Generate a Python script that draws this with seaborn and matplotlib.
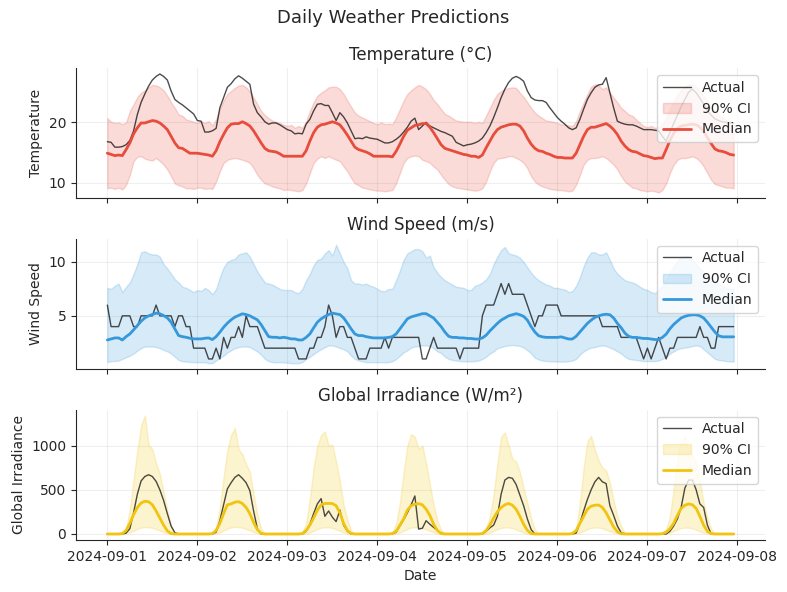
import numpy as np
import pandas as pd
import matplotlib
matplotlib.use("Agg")
import matplotlib.pyplot as plt
import matplotlib.dates as mdates
import seaborn as sns

# ---------------- data (hourly, 2024-09-01 00:00 .. 2024-09-07 23:00) ----------------
temp_actual = [
    16.8, 16.7, 15.9, 15.9, 16.0, 16.3, 17.0, 18.6, 21.3, 23.3, 24.7, 26.0, 27.0, 27.6, 28.0, 27.6, 27.0, 25.2, 23.8, 23.3, 22.9, 22.4, 21.9, 21.4,
    20.3, 20.2, 18.4, 18.4, 18.6, 19.0, 22.4, 24.1, 25.8, 26.4, 27.2, 27.7, 27.3, 26.8, 26.3, 23.0, 21.6, 20.9, 20.1, 19.7, 19.9, 19.9, 19.6, 19.2,
    18.8, 18.6, 18.1, 18.2, 18.1, 19.7, 20.5, 21.9, 23.0, 23.1, 22.8, 22.8, 21.6, 20.3, 21.6, 20.9, 19.9, 18.6, 17.3, 17.4, 17.3, 17.6, 17.4, 17.3,
    17.2, 16.9, 16.6, 16.6, 16.8, 17.2, 17.7, 18.4, 19.2, 20.2, 20.7, 18.8, 19.4, 20.0, 19.4, 19.1, 18.8, 18.5, 18.3, 18.0, 17.7, 16.7, 16.4, 16.1,
    16.3, 16.4, 16.6, 16.9, 17.4, 18.3, 19.4, 20.8, 22.4, 24.1, 25.5, 26.6, 27.3, 27.6, 27.3, 26.8, 25.2, 24.1, 23.7, 23.6, 23.6, 23.3, 22.4, 21.6,
    20.8, 20.2, 19.7, 19.1, 18.8, 19.1, 20.5, 22.2, 23.8, 24.9, 25.8, 26.2, 26.3, 27.4, 24.9, 22.4, 20.2, 19.9, 19.7, 19.6, 19.6, 19.4, 19.1, 18.8,
    18.8, 18.8, 18.7, 18.6, 17.7, 16.9, 18.3, 19.8, 21.2, 22.6, 23.8, 25.0, 25.5, 24.9, 24.0, 23.0, 22.0, 21.2, 20.6, 20.3, 20.1, 20.0, 19.9, 19.9,
]
temp_median = [
    14.9, 14.7, 14.5, 14.6, 14.5, 15.5, 16.6, 18.1, 19.1, 19.9, 19.9, 20.1, 20.3, 20.2, 19.9, 19.4, 18.8, 17.7, 16.6, 15.8, 15.7, 15.3, 14.9, 14.9,
    14.9, 14.8, 14.7, 14.6, 14.4, 15.3, 16.8, 18.0, 19.1, 19.7, 19.8, 19.8, 20.1, 19.8, 19.4, 18.6, 17.6, 16.6, 15.7, 15.3, 15.2, 15.1, 14.8, 14.4,
    14.4, 14.4, 14.4, 14.4, 14.4, 15.3, 16.9, 18.3, 19.2, 19.6, 19.7, 19.9, 20.1, 19.9, 19.6, 18.8, 17.9, 16.9, 15.9, 15.5, 15.3, 15.1, 14.8, 14.4,
    14.4, 14.4, 14.4, 14.4, 14.3, 15.2, 16.4, 17.7, 18.7, 19.1, 19.5, 19.6, 19.8, 19.8, 19.2, 18.3, 17.3, 16.3, 15.7, 15.5, 15.3, 15.1, 14.9, 14.7,
    14.6, 14.4, 14.4, 14.2, 14.6, 15.8, 16.9, 18.0, 18.8, 19.2, 19.4, 19.6, 19.7, 19.7, 19.4, 18.6, 17.4, 16.4, 15.7, 15.3, 15.2, 14.9, 14.7, 14.4,
    14.2, 14.2, 14.1, 14.1, 14.1, 14.9, 16.3, 17.7, 18.8, 19.2, 19.2, 19.4, 19.6, 19.8, 19.4, 18.8, 18.0, 16.9, 16.1, 15.5, 15.2, 15.1, 14.8, 14.5,
    14.4, 14.2, 14.0, 14.1, 14.1, 15.5, 17.0, 18.2, 19.0, 19.4, 19.5, 19.6, 19.7, 19.6, 19.2, 18.5, 17.5, 16.5, 15.6, 15.3, 15.2, 15.0, 14.7, 14.6,
]
temp_upper = [
    20.7, 20.1, 19.9, 20.0, 19.7, 20.0, 21.9, 23.0, 24.2, 24.9, 25.3, 25.8, 26.2, 26.1, 25.8, 25.3, 24.4, 23.3, 22.4, 21.3, 21.1, 20.5, 20.3, 20.1,
    19.9, 20.2, 19.9, 20.2, 19.5, 20.5, 22.2, 23.6, 24.7, 25.2, 25.7, 26.1, 26.2, 25.8, 25.1, 24.1, 23.0, 21.9, 21.2, 20.7, 20.3, 20.1, 19.9, 19.6,
    19.4, 19.6, 19.1, 19.4, 19.1, 20.2, 21.9, 23.3, 24.4, 24.9, 25.3, 25.8, 25.9, 25.9, 25.5, 24.7, 23.6, 22.6, 21.6, 21.1, 20.8, 20.5, 20.2, 19.9,
    19.7, 20.0, 19.7, 19.8, 19.7, 20.8, 22.2, 23.6, 24.7, 25.3, 25.8, 26.2, 25.9, 25.5, 24.7, 23.7, 23.0, 22.2, 21.4, 21.1, 20.7, 20.3, 20.2, 20.1,
    20.1, 20.1, 19.9, 20.1, 19.9, 21.1, 22.4, 23.7, 24.7, 25.2, 25.5, 25.7, 25.8, 25.7, 24.9, 24.2, 23.3, 22.4, 21.6, 21.1, 20.7, 20.3, 20.2, 20.1,
    19.9, 19.7, 19.6, 19.5, 19.4, 20.2, 21.9, 23.3, 24.7, 25.9, 26.3, 26.1, 25.5, 25.8, 24.9, 24.1, 23.3, 22.4, 21.9, 21.3, 21.1, 20.5, 19.9, 19.4,
    19.2, 19.4, 19.1, 19.2, 19.7, 20.8, 22.2, 23.5, 24.6, 25.4, 25.9, 26.3, 26.2, 25.9, 25.2, 24.4, 23.5, 22.6, 21.8, 21.2, 20.7, 20.4, 20.2, 20.0,
]
temp_lower = [
    9.1, 9.2, 9.0, 9.2, 8.9, 9.7, 11.3, 13.6, 14.3, 14.4, 14.0, 13.8, 13.7, 14.1, 13.6, 13.0, 12.2, 11.1, 9.9, 9.6, 9.4, 9.1, 9.1, 9.0,
    9.2, 9.2, 9.0, 9.1, 9.0, 10.2, 11.9, 13.3, 13.8, 14.0, 14.1, 14.0, 13.8, 13.6, 13.3, 12.4, 11.3, 10.5, 9.9, 9.7, 9.4, 9.2, 9.1, 8.8,
    8.9, 8.8, 8.7, 8.6, 8.8, 9.9, 11.6, 13.3, 14.0, 14.4, 14.1, 14.4, 14.1, 13.8, 13.6, 12.7, 11.9, 10.8, 9.9, 9.6, 9.2, 9.1, 8.9, 8.8,
    8.7, 8.7, 8.6, 8.7, 8.8, 9.9, 11.6, 13.3, 14.1, 14.4, 14.5, 14.4, 13.8, 13.6, 13.3, 12.7, 12.2, 11.3, 10.5, 9.8, 9.4, 9.2, 9.1, 9.0,
    8.9, 8.8, 8.7, 8.8, 9.1, 10.2, 11.9, 13.3, 14.0, 14.1, 14.2, 14.4, 14.4, 14.1, 13.8, 13.3, 12.4, 11.1, 10.2, 9.7, 9.4, 9.2, 9.0, 8.9,
    8.8, 8.8, 8.7, 8.6, 8.7, 9.7, 11.3, 13.0, 13.8, 14.1, 14.1, 14.2, 14.4, 14.1, 13.6, 13.0, 12.2, 11.1, 10.2, 9.7, 9.2, 9.1, 8.8, 8.7,
    8.6, 8.7, 8.6, 8.4, 8.8, 9.9, 11.6, 13.0, 13.8, 14.1, 14.1, 14.2, 14.4, 14.1, 13.6, 12.7, 11.6, 10.5, 9.8, 9.6, 9.4, 9.2, 9.2, 9.1,
]

wind_actual = [
    6, 4, 4, 4, 5, 5, 5, 4, 4, 5, 5, 5, 5, 6, 5, 5, 5, 5, 4, 5, 5, 4, 4, 2,
    2, 2, 2, 1, 1, 2, 1, 3, 2, 3, 3, 4, 3, 5, 4, 4, 4, 3, 2, 2, 2, 2, 2, 2,
    2, 2, 2, 1, 1, 1, 2, 2, 3, 3, 4, 6, 5, 3, 4, 4, 3, 3, 2, 1, 1, 1, 2, 2,
    2, 2, 3, 2, 3, 3, 3, 3, 3, 3, 3, 3, 1, 1, 2, 3, 2, 2, 2, 2, 2, 2, 1, 2,
    2, 2, 2, 2, 5, 6, 6, 6, 7, 8, 7, 8, 7, 7, 7, 7, 6, 5, 4, 5, 5, 6, 6, 6,
    6, 5, 5, 5, 5, 5, 5, 5, 5, 5, 5, 5, 4, 4, 4, 4, 4, 3, 3, 3, 3, 3, 2, 1,
    2, 1, 2, 3, 2, 1, 2, 2, 3, 3, 3, 3, 3, 3, 4, 3, 3, 2, 2, 4, 4, 4, 4, 4,
]
wind_median = [
    2.76, 2.86, 2.95, 2.95, 2.76, 3.07, 3.32, 3.70, 4.10, 4.50, 4.81, 5.00, 5.12, 5.25, 5.19, 5.03, 4.81, 4.41, 3.79, 3.17, 3.07, 3.01, 2.92, 2.86,
    2.86, 2.86, 2.92, 2.95, 2.80, 3.07, 3.48, 3.94, 4.32, 4.63, 4.88, 5.03, 5.19, 5.12, 5.00, 4.81, 4.63, 4.19, 3.63, 3.07, 3.01, 3.01, 2.95, 3.01,
    2.95, 2.86, 2.86, 2.76, 2.76, 3.00, 3.32, 3.88, 4.41, 4.72, 4.94, 5.12, 5.25, 5.19, 5.12, 4.81, 4.32, 3.79, 3.32, 3.17, 3.17, 3.07, 3.00, 2.95,
    2.95, 2.95, 2.95, 3.00, 3.07, 3.32, 3.79, 4.26, 4.72, 4.90, 5.00, 5.10, 5.20, 5.20, 5.00, 4.80, 4.40, 4.00, 3.50, 3.10, 3.00, 3.00, 2.95, 2.95,
    2.90, 2.90, 2.85, 2.85, 2.95, 3.20, 3.60, 3.95, 4.30, 4.60, 4.80, 5.00, 5.10, 5.20, 5.10, 4.95, 4.60, 4.00, 3.50, 3.15, 3.05, 3.00, 3.00, 3.00,
    3.00, 3.05, 2.95, 2.85, 2.85, 3.10, 3.50, 3.90, 4.30, 4.60, 4.85, 5.00, 5.10, 5.15, 5.10, 4.80, 4.30, 3.90, 3.40, 3.10, 3.00, 3.00, 2.95, 2.90,
    2.90, 2.85, 2.80, 2.80, 3.00, 3.30, 3.80, 4.20, 4.50, 4.80, 4.95, 5.05, 5.10, 5.10, 5.00, 4.80, 4.40, 3.95, 3.50, 3.15, 3.05, 3.05, 3.05, 3.05,
]
wind_upper = [
    7.6, 7.5, 7.8, 8.0, 7.2, 7.7, 8.1, 8.9, 9.8, 10.9, 11.0, 10.8, 10.7, 10.7, 10.5, 9.8, 9.4, 8.9, 8.4, 8.1, 7.7, 7.6, 7.4, 7.2,
    7.4, 7.3, 7.6, 7.4, 7.0, 7.5, 8.6, 9.5, 10.0, 10.2, 10.3, 10.7, 10.8, 10.9, 10.5, 9.8, 9.1, 8.6, 8.1, 8.0, 7.9, 7.7, 7.5, 7.4,
    7.4, 7.4, 7.2, 7.1, 7.5, 8.3, 8.9, 9.7, 10.2, 10.3, 10.8, 11.1, 10.6, 11.6, 10.8, 10.0, 9.4, 8.3, 8.0, 8.0, 7.9, 8.0, 7.8, 7.7,
    7.5, 7.3, 7.3, 7.5, 7.5, 8.3, 9.2, 10.2, 10.8, 11.0, 11.2, 11.2, 11.0, 10.4, 10.6, 9.5, 9.0, 8.6, 8.3, 8.1, 7.9, 7.7, 7.65, 7.6,
    7.4, 7.4, 7.8, 7.9, 8.1, 8.4, 8.9, 9.8, 10.5, 11.1, 11.4, 10.8, 10.7, 10.6, 10.4, 10.0, 9.5, 9.0, 8.6, 8.3, 8.1, 7.9, 7.8, 7.6,
    7.6, 7.5, 7.45, 7.2, 7.3, 7.8, 8.6, 9.6, 10.4, 10.9, 10.9, 10.7, 10.7, 10.9, 10.2, 9.4, 8.9, 8.6, 8.3, 8.2, 8.1, 7.95, 7.7, 7.5,
    7.4, 7.2, 7.1, 7.4, 7.8, 8.4, 9.0, 9.6, 10.1, 10.5, 10.6, 10.5, 10.2, 9.8, 9.4, 9.1, 8.8, 8.5, 8.2, 8.0, 7.8, 7.6, 7.5, 7.5,
]
wind_lower = [
    0.70, 0.80, 0.80, 0.85, 1.00, 1.15, 1.30, 1.50, 1.77, 2.00, 2.15, 2.15, 2.15, 2.10, 2.00, 1.83, 1.70, 1.50, 1.20, 0.90, 0.78, 0.75, 0.72, 0.70,
    0.70, 0.68, 0.70, 0.60, 0.60, 0.85, 1.10, 1.30, 1.60, 1.80, 2.00, 2.10, 2.15, 2.15, 2.10, 1.90, 1.70, 1.40, 1.00, 0.80, 0.70, 0.68, 0.70, 0.68,
    0.65, 0.60, 0.60, 0.60, 0.70, 1.00, 1.20, 1.45, 1.70, 1.90, 2.10, 2.25, 2.25, 2.15, 2.00, 1.90, 1.70, 1.30, 1.00, 0.85, 0.78, 0.70, 0.70, 0.70,
    0.68, 0.70, 0.68, 0.70, 0.78, 1.00, 1.30, 1.60, 1.80, 2.05, 2.15, 2.20, 2.25, 2.25, 2.20, 2.00, 1.70, 1.55, 1.20, 1.00, 0.90, 0.85, 0.80, 0.78,
    0.77, 0.78, 0.80, 0.85, 1.00, 1.20, 1.50, 1.70, 2.00, 2.10, 2.20, 2.25, 2.30, 2.25, 2.20, 2.05, 1.80, 1.50, 1.10, 0.95, 0.85, 0.80, 0.78, 0.78,
    0.75, 0.75, 0.75, 0.78, 0.85, 1.00, 1.40, 1.70, 1.90, 2.05, 2.10, 2.20, 2.25, 2.20, 2.05, 1.90, 1.70, 1.50, 1.20, 1.00, 0.95, 0.90, 0.85, 0.80,
    0.80, 0.80, 0.80, 0.85, 1.00, 1.20, 1.50, 1.70, 1.90, 2.00, 2.05, 2.10, 2.20, 2.25, 2.20, 1.90, 1.60, 1.30, 1.00, 0.90, 0.85, 0.80, 0.78, 0.75,
]

irr_actual = [
    0, 0, 0, 0, 0, 10, 60, 240, 450, 600, 650, 670, 650, 595, 500, 380, 230, 90, 15, 0, 0, 0, 0, 0,
    0, 0, 0, 0, 0, 20, 150, 330, 510, 580, 640, 670, 630, 580, 490, 260, 60, 0, 0, 0, 0, 0, 0, 0,
    0, 0, 0, 0, 0, 30, 110, 230, 340, 400, 200, 260, 190, 140, 270, 100, 30, 0, 0, 0, 0, 0, 0, 0,
    0, 0, 0, 0, 0, 20, 90, 160, 240, 330, 430, 55, 65, 150, 110, 75, 40, 10, 0, 0, 0, 0, 0, 0,
    0, 0, 0, 0, 0, 30, 70, 100, 200, 450, 610, 640, 630, 560, 440, 320, 170, 50, 0, 0, 0, 0, 0, 0,
    0, 0, 0, 0, 0, 10, 120, 260, 390, 500, 590, 640, 590, 570, 320, 210, 90, 15, 0, 0, 0, 0, 0, 0,
    0, 0, 0, 0, 0, 0, 30, 90, 170, 300, 520, 610, 610, 500, 340, 300, 100, 0, 0, 0, 0, 0, 0, 0,
]
irr_median = [
    0, 0, 0, 0, 5, 40, 120, 220, 300, 350, 370, 365, 330, 260, 180, 100, 35, 5, 0, 0, 0, 0, 0, 0,
    0, 0, 0, 0, 5, 40, 120, 230, 330, 340, 360, 365, 345, 300, 230, 130, 50, 8, 0, 0, 0, 0, 0, 0,
    0, 0, 0, 0, 5, 40, 100, 180, 270, 330, 345, 345, 345, 320, 240, 120, 40, 5, 0, 0, 0, 0, 0, 0,
    0, 0, 0, 0, 5, 30, 100, 170, 270, 320, 338, 343, 330, 280, 210, 110, 40, 5, 0, 0, 0, 0, 0, 0,
    0, 0, 0, 0, 5, 40, 100, 180, 250, 300, 330, 345, 325, 280, 200, 110, 40, 5, 0, 0, 0, 0, 0, 0,
    0, 0, 0, 0, 5, 40, 120, 200, 280, 315, 325, 328, 300, 240, 160, 80, 25, 3, 0, 0, 0, 0, 0, 0,
    0, 0, 0, 0, 3, 20, 60, 120, 210, 290, 325, 340, 330, 290, 200, 100, 30, 5, 0, 0, 0, 0, 0, 0,
]
irr_upper = [
    0, 0, 0, 0, 10, 70, 280, 620, 950, 1230, 1340, 1010, 960, 800, 680, 470, 270, 90, 10, 0, 0, 0, 0, 0,
    0, 0, 0, 0, 10, 80, 300, 650, 950, 1120, 1200, 960, 900, 790, 700, 450, 220, 60, 5, 0, 0, 0, 0, 0,
    0, 0, 0, 0, 20, 120, 400, 750, 1000, 1120, 1160, 1000, 1010, 820, 600, 330, 160, 40, 5, 0, 0, 0, 0, 0,
    0, 0, 0, 0, 20, 120, 350, 700, 1000, 1130, 1100, 960, 1000, 800, 560, 330, 150, 50, 5, 0, 0, 0, 0, 0,
    0, 0, 0, 0, 10, 60, 200, 450, 800, 1100, 1150, 1000, 850, 820, 700, 520, 350, 180, 50, 5, 0, 0, 0, 0,
    0, 0, 0, 0, 10, 50, 350, 750, 1050, 1110, 950, 830, 750, 720, 580, 380, 200, 90, 10, 0, 0, 0, 0, 0,
    0, 0, 0, 0, 10, 50, 200, 500, 850, 1050, 1100, 950, 900, 800, 600, 350, 180, 60, 5, 0, 0, 0, 0, 0,
]
irr_lower = [
    0, 0, 0, 0, 0, 5, 18, 35, 58, 72, 78, 76, 70, 55, 38, 20, 8, 2, 0, 0, 0, 0, 0, 0,
    0, 0, 0, 0, 0, 5, 18, 38, 60, 74, 80, 78, 70, 56, 40, 20, 8, 2, 0, 0, 0, 0, 0, 0,
    0, 0, 0, 0, 0, 5, 16, 35, 56, 70, 76, 75, 68, 52, 35, 17, 6, 1, 0, 0, 0, 0, 0, 0,
    0, 0, 0, 0, 0, 5, 16, 35, 56, 71, 76, 74, 66, 52, 35, 17, 7, 2, 0, 0, 0, 0, 0, 0,
    0, 0, 0, 0, 0, 4, 15, 34, 55, 68, 74, 73, 66, 50, 33, 15, 6, 1, 0, 0, 0, 0, 0, 0,
    0, 0, 0, 0, 0, 5, 16, 34, 55, 68, 73, 72, 65, 48, 31, 15, 6, 1, 0, 0, 0, 0, 0, 0,
    0, 0, 0, 0, 0, 4, 14, 32, 53, 66, 72, 70, 63, 47, 30, 13, 5, 1, 0, 0, 0, 0, 0, 0,
]

start_time = "2024-09-01 00:00"
panel_titles = ["Temperature (°C)", "Wind Speed (m/s)", "Global Irradiance (W/m²)"]
panel_ylabels = ["Temperature", "Wind Speed", "Global Irradiance"]
panel_colors = ["#e74c3c", "#3498db", "#f1c40f"]
main_title = "Daily Weather Predictions"

# ---------------- plotting ----------------
sns.set_style("ticks")
plt.rcParams["font.family"] = ["DejaVu Sans"]

times = pd.date_range(start_time, periods=len(temp_actual), freq="h")
panels = [
    (temp_actual, temp_median, temp_lower, temp_upper),
    (wind_actual, wind_median, wind_lower, wind_upper),
    (irr_actual, irr_median, irr_lower, irr_upper),
]

fig, axes = plt.subplots(3, 1, figsize=(7.87, 5.92), dpi=100, sharex=True)
fig.subplots_adjust(left=0.0966, right=0.972, top=0.885, bottom=0.088, hspace=0.31)

for ax, (act, med, lo, hi), title, ylab, col in zip(axes, panels, panel_titles, panel_ylabels, panel_colors):
    df = pd.DataFrame({"time": times, "actual": act, "median": med, "lower": lo, "upper": hi})
    sns.lineplot(data=df, x="time", y="actual", ax=ax, color="black", alpha=0.7,
                 linewidth=1, label="Actual")
    ax.fill_between(df["time"], df["lower"], df["upper"], color=col, alpha=0.2, label="90% CI")
    sns.lineplot(data=df, x="time", y="median", ax=ax, color=col, linewidth=2, label="Median")
    ax.set_title(title, fontsize=12)
    ax.set_ylabel(ylab, fontsize=10)
    ax.set_xlabel("")
    ax.grid(True, alpha=0.3)
    ax.legend(loc="upper right", fontsize=10)
    sns.despine(ax=ax)

axes[-1].set_xlabel("Date", fontsize=10)
axes[-1].xaxis.set_major_locator(mdates.DayLocator())
axes[-1].xaxis.set_major_formatter(mdates.DateFormatter("%Y-%m-%d"))
fig.suptitle(main_title, fontsize=13, y=0.985)

fig.savefig("out.png", dpi=100)
